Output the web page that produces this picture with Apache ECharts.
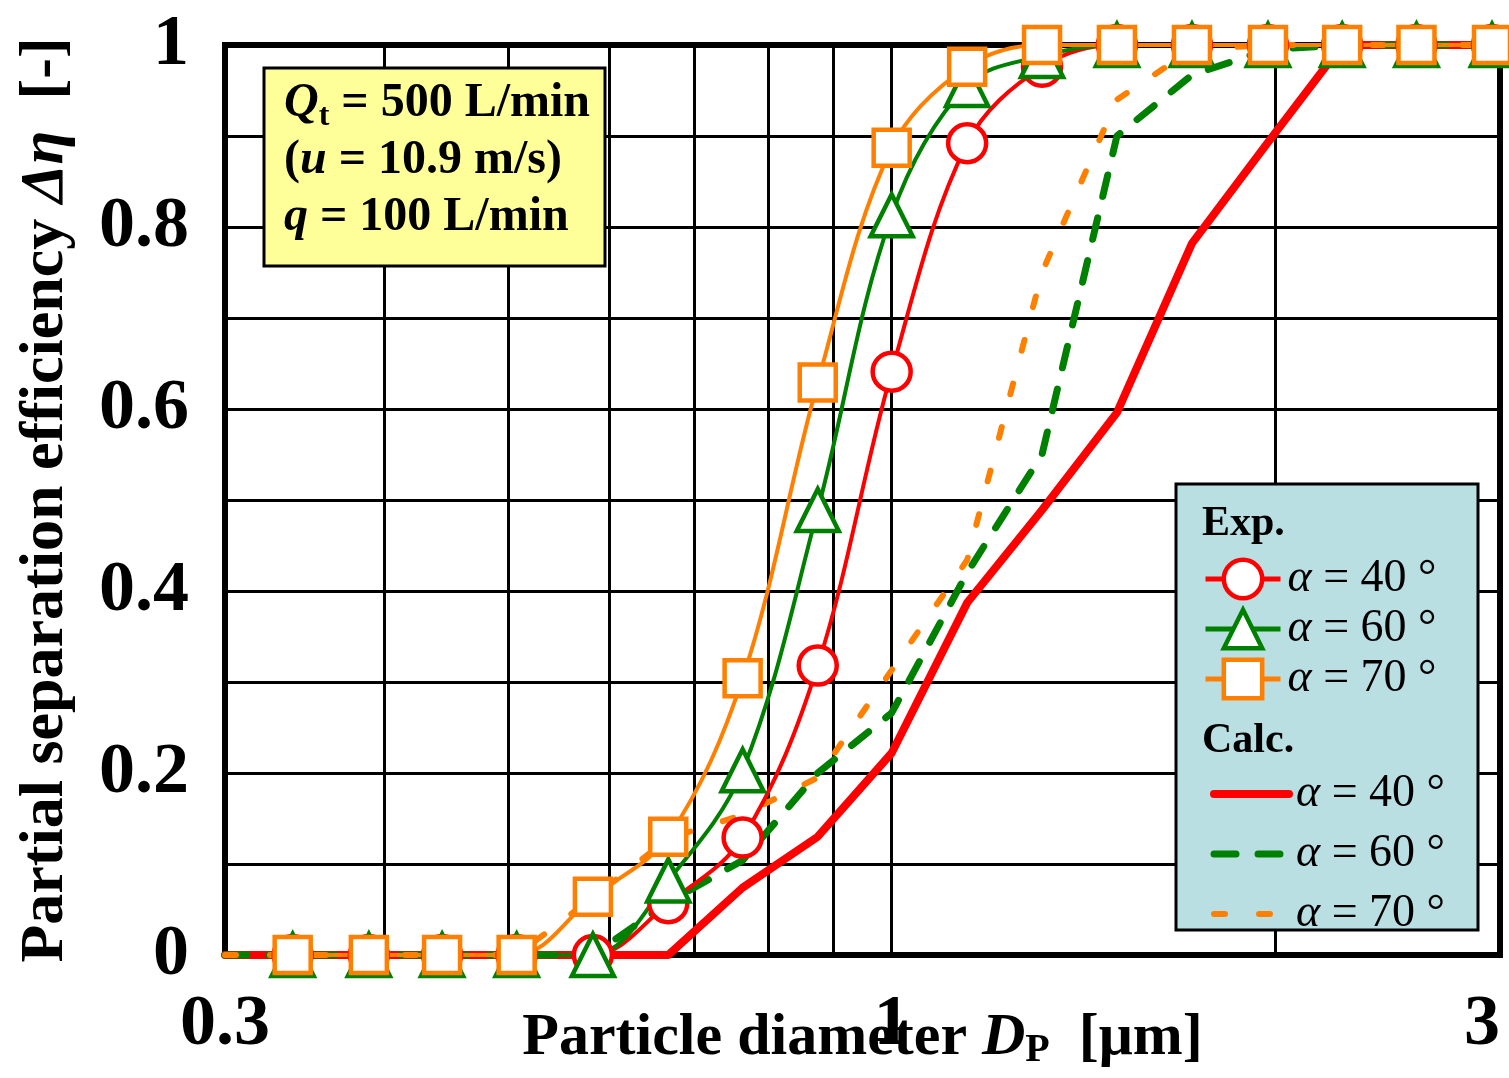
<!DOCTYPE html>
<html>
<head>
<meta charset="utf-8">
<script src="https://cdn.jsdelivr.net/npm/echarts@6/dist/echarts.min.js"></script>
<style>
html,body{margin:0;padding:0;background:#fff;}
#c{width:1509px;height:1078px;}
</style>
</head>
<body>
<div id="c"></div>
<script>
// ---- data ----
const dp = [0.339, 0.389, 0.444, 0.508, 0.583, 0.668, 0.764, 0.875, 1.0, 1.146, 1.312, 1.502, 1.72, 1.973, 2.256, 2.58, 2.957];
const dpCalc = [0.3, 0.339, 0.389, 0.444, 0.508, 0.583, 0.668, 0.764, 0.875, 1.0, 1.146, 1.312, 1.502, 1.72, 1.973, 2.256, 2.58, 2.957, 3.0];
const exp40 = [0, 0, 0, 0, 0, 0.057, 0.129, 0.318, 0.641, 0.892, 0.976, 1, 1, 1, 1, 1, 1];
const exp60 = [0, 0, 0, 0, 0, 0.082, 0.203, 0.489, 0.813, 0.956, 0.988, 1, 1, 1, 1, 1, 1];
const exp70 = [0, 0, 0, 0, 0.064, 0.130, 0.304, 0.629, 0.887, 0.976, 1, 1, 1, 1, 1, 1, 1];
const calc40 = [0, 0, 0, 0, 0, 0, 0, 0.074, 0.130, 0.222, 0.387, 0.489, 0.596, 0.782, 0.893, 1, 1, 1, 1];
const calc60 = [0, 0, 0, 0, 0, 0, 0.058, 0.104, 0.200, 0.266, 0.420, 0.550, 0.900, 0.967, 0.995, 1, 1, 1, 1];
const calc70 = [0, 0, 0, 0, 0, 0.063, 0.128, 0.154, 0.195, 0.313, 0.434, 0.750, 0.940, 0.995, 1, 1, 1, 1, 1];
const angles = [40, 60, 70];
const xGridValues = [0.4, 0.5, 0.6, 0.7, 0.8, 0.9, 1, 2];
const xTickLabels = [0.3, 1, 3];
const yTickLabels = [0, 0.2, 0.4, 0.6, 0.8, 1];

const RED = '#FF0000', GREEN = '#008000', ORANGE = '#FF8000';
const SERIF = '"Liberation Serif", "Times New Roman", serif';

function pairs(xs, ys) { return xs.map((x, i) => [x, ys[i]]); }

const chart = echarts.init(document.getElementById('c'), null, {renderer: 'canvas'});

const expStyle = [
  {name: 'exp40', data: exp40, color: RED, symbol: 'circle', size: 38},
  {name: 'exp60', data: exp60, color: GREEN, symbol: 'triangle', size: 42},
  {name: 'exp70', data: exp70, color: ORANGE, symbol: 'rect', size: 36}
];
const calcStyle = [
  {name: 'calc40', data: calc40, color: RED, type: 'solid', width: 8},
  {name: 'calc60', data: calc60, color: GREEN, type: [22, 22], width: 7},
  {name: 'calc70', data: calc70, color: ORANGE, type: [11, 34], width: 6}
];

const series = [];
// vertical grid lines placed through the log axis
series.push({
  type: 'line', name: 'grid', data: [], silent: true, z: 1,
  markLine: {
    silent: true, symbol: ['none', 'none'], z: 1, animation: false,
    label: {show: false},
    lineStyle: {color: '#000', width: 3, type: 'solid'},
    data: xGridValues.map(v => ({xAxis: v}))
  }
});
calcStyle.forEach(s => {
  series.push({
    type: 'line', name: s.name, data: pairs(dpCalc, s.data), symbol: 'none', clip: false, z: 2,
    lineStyle: {color: s.color, width: s.width, type: s.type, cap: 'round', join: 'round'},
    itemStyle: {color: s.color},
    animation: false
  });
});
expStyle.forEach(s => {
  series.push({
    type: 'line', name: s.name, data: pairs(dp, s.data), symbol: s.symbol, symbolSize: s.size,
    showAllSymbol: true, smooth: 0.35, clip: false, z: 3,
    lineStyle: {color: s.color, width: 4},
    itemStyle: {color: '#fff', borderColor: s.color, borderWidth: 4.5},
    animation: false
  });
});

const legendRich = {
  a: {fontFamily: SERIF, fontStyle: 'italic', fontSize: 46, color: '#000', padding: [0, 0, 0, 2]},
  b: {fontFamily: SERIF, fontSize: 46, color: '#000'}
};
function legendFmt(name) {
  const ang = name.replace(/\D/g, '');
  return '{a|α}{b| = ' + ang + ' °}';
}

const option = {
  backgroundColor: '#fff',
  animation: false,
  grid: {left: 225, top: 45, width: 1275, height: 910, show: true, borderColor: '#000', borderWidth: 6,
    backgroundColor: 'transparent', outerBoundsMode: 'none', containLabel: false},
  xAxis: {
    type: 'log', logBase: 10, min: 0.3, max: 3,
    axisLine: {show: false}, axisTick: {show: false},
    splitLine: {show: false},
    axisLabel: {
      fontFamily: SERIF, fontWeight: 'bold', fontSize: 72, color: '#000', margin: 34,
      showMinLabel: true, showMaxLabel: true, alignMaxLabel: 'right',
      formatter: v => {
        const r = Number(Number(v).toPrecision(3));
        return xTickLabels.indexOf(r) >= 0 ? String(r) : '';
      }
    },
    name: '{t|Particle diameter }{i|D}{s|P}{t| [μm]}',
    nameLocation: 'middle', nameGap: 50, nameMoveOverlap: false,
    nameTextStyle: {
      rich: {
        t: {fontFamily: SERIF, fontWeight: 'bold', fontSize: 60, color: '#000', lineHeight: 66},
        i: {fontFamily: SERIF, fontWeight: 'bold', fontStyle: 'italic', fontSize: 60, color: '#000', lineHeight: 66},
        s: {fontFamily: SERIF, fontWeight: 'bold', fontSize: 40, color: '#000', verticalAlign: 'bottom', lineHeight: 40, padding: [0, 14, 0, 0]}
      }
    }
  },
  yAxis: {
    type: 'value', min: 0, max: 1, interval: 0.1,
    axisLine: {show: false}, axisTick: {show: false},
    splitLine: {show: true, lineStyle: {color: '#000', width: 3}},
    axisLabel: {
      fontFamily: SERIF, fontWeight: 'bold', fontSize: 72, color: '#000', margin: 36,
      formatter: v => {
        const r = Math.round(v * 10) / 10;
        return yTickLabels.indexOf(r) >= 0 ? String(r) : '';
      }
    },
    name: '{t|Partial separation efficiency }{i|Δη}{t|  [-]}',
    nameLocation: 'middle', nameGap: 148,
    nameTextStyle: {
      rich: {
        t: {fontFamily: SERIF, fontWeight: 'bold', fontSize: 62, color: '#000'},
        i: {fontFamily: SERIF, fontWeight: 'bold', fontStyle: 'italic', fontSize: 62, color: '#000'}
      }
    }
  },
  legend: [
    {
      data: ['exp40', 'exp60', 'exp70'], orient: 'vertical', left: 1198, top: 551,
      itemWidth: 75, itemHeight: 48, itemGap: 4, z: 6,
      lineStyle: {width: 5},
      itemStyle: {borderWidth: 4.5},
      formatter: legendFmt, textStyle: {rich: legendRich, lineHeight: 46},
      selectedMode: false
    },
    {
      data: ['calc40', 'calc60', 'calc70'], orient: 'vertical', left: 1205, top: 766,
      itemWidth: 75, itemHeight: 38, itemGap: 14, z: 6,
      lineStyle: {width: 'inherit', type: 'inherit'},
      itemStyle: {opacity: 0},
      formatter: legendFmt, textStyle: {rich: legendRich, lineHeight: 46},
      selectedMode: false
    }
  ],
  graphic: [
    {type: 'rect', z: 5, shape: {x: 1176, y: 484, width: 302, height: 446},
      style: {fill: '#B9DFE3', stroke: '#000', lineWidth: 3}},
    {type: 'text', z: 6, left: 1202, top: 503,
      style: {text: 'Exp.', font: 'bold 42px ' + SERIF, fill: '#000'}},
    {type: 'text', z: 6, left: 1202, top: 720,
      style: {text: 'Calc.', font: 'bold 42px ' + SERIF, fill: '#000'}},
    {type: 'rect', z: 5, shape: {x: 264, y: 68, width: 341, height: 198},
      style: {fill: '#FFFF99', stroke: '#000', lineWidth: 3}},
    {type: 'text', z: 6, left: 284, top: 80,
      style: {
        text: '{qi|Q}{sub|t}{n| = 500 L/min}\n{n|(}{qi|u}{n| = 10.9 m/s)}\n{qi|q}{n| = 100 L/min}',
        rich: {
          n: {font: 'bold 48px ' + SERIF, fill: '#000', lineHeight: 57},
          qi: {font: 'italic bold 48px ' + SERIF, fill: '#000', lineHeight: 57},
          sub: {font: 'bold 32px ' + SERIF, fill: '#000', lineHeight: 40, verticalAlign: 'bottom'}
        }
      }}
  ],
  series: series
};
chart.setOption(option);
</script>
</body>
</html>
